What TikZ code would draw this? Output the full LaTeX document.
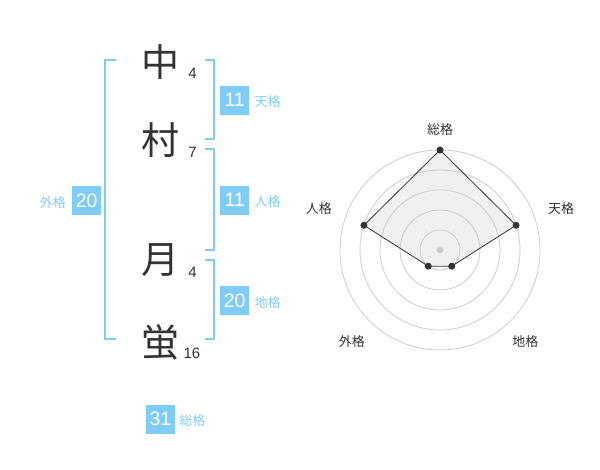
\documentclass[tikz,border=0pt]{standalone}
\usepackage{fontspec}
\setmainfont{Liberation Sans}
\newfontfamily\jpfont{Noto Sans CJK JP}
\usetikzlibrary{positioning}

\definecolor{kakublue}{HTML}{80CCF8}
\definecolor{inkgray}{HTML}{333333}
\definecolor{ringgray}{HTML}{CCCCCC}
\definecolor{polyfill}{HTML}{F0F0F0}

\begin{document}
\begin{tikzpicture}[%
    x=1pt, y=1pt,
    on grid,
    kanji/.style={font=\jpfont\fontsize{38}{38}\selectfont, text=inkgray, inner sep=0pt},
    stroke/.style={font=\fontsize{15}{15}\selectfont, text=inkgray, inner sep=0pt},
    score/.style={fill=kakublue, text=white, font=\fontsize{19.5}{19.5}\selectfont,
                  minimum size=29pt, inner sep=0pt},
    kaku/.style={font=\jpfont\fontsize{13}{13}\selectfont, text=kakublue, inner sep=0pt},
    bracket/.style={draw=kakublue, line width=2pt},
    axis/.style={font=\jpfont\fontsize{13}{13}\selectfont, text=inkgray, inner sep=0pt},
    ring/.style={draw=ringgray, line width=0.8pt},
    dot/.style={circle, fill=inkgray, minimum size=7pt, inner sep=0pt},
    hub/.style={circle, fill=ringgray, minimum size=7pt, inner sep=0pt}
    ]
    \useasboundingbox (0,0) rectangle (600,470);

    % the name
    \node[kanji] (naka)              at (160,408) {中};
    \node[kanji] (mura)   [below=78pt of naka]   {村};
    \node[kanji] (tsuki)  [below=120pt of mura]  {月};
    \node[kanji] (hotaru) [below=82pt of tsuki]  {蛍};

    \node[stroke] (s1) [below right=11pt and 32.5pt of naka]   {4};
    \node[stroke] (s2) [below right=12.7pt and 32.5pt of mura] {7};
    \node[stroke] (s3) [below right=12.7pt and 32.5pt of tsuki] {4};
    \node[stroke] (s4) [below right=11.6pt and 32pt of hotaru] {16};

    % brackets
    \draw[bracket] (116,410) -- (105,410) -- (105,130.7) -- (116,130.7);
    \draw[bracket] (205,410) -- (214.3,410) -- (214.3,330.7) -- (205,330.7);
    \draw[bracket] (205,320.7) -- (214.3,320.7) -- (214.3,220) -- (205,220);
    \draw[bracket] (205,210) -- (214.3,210) -- (214.3,130.7) -- (205,130.7);

    % scores
    \node[score] (ten) at (234.7,369.7) {11};
    \node[kaku, anchor=base west] (tenlbl) at ([xshift=5pt]ten.base east) {天格};
    \node[score] (jin) at (234.7,269.7) {11};
    \node[kaku, anchor=base west] (jinlbl) at ([xshift=5pt]jin.base east) {人格};
    \node[score] (chi) at (234.7,169.7) {20};
    \node[kaku, anchor=base west] (chilbl) at ([xshift=5pt]chi.base east) {地格};
    \node[score] (gai) at (86.7,269.7) {20};
    \node[kaku, anchor=base east] (gailbl) at ([xshift=-6pt]gai.base west) {外格};
    \node[score] (sou) at (160.5,50.8) {31};
    \node[kaku, anchor=base west] (soulbl) at ([xshift=4pt]sou.base east) {総格};

    % radar
    \coordinate (c) at (440,220);
    \coordinate (psou) at ([shift={(90:100)}]c);
    \coordinate (pten) at ([shift={(18:80)}]c);
    \coordinate (pchi) at ([shift={(-54:20)}]c);
    \coordinate (pgai) at ([shift={(234:20)}]c);
    \coordinate (pjin) at ([shift={(162:80)}]c);

    \fill[polyfill] (psou) -- (pten) -- (pchi) -- (pgai) -- (pjin) -- cycle;
    \foreach \r in {20,40,...,100}
        \draw[ring] (c) circle (\r);
    \draw[inkgray, line width=0.8pt] (psou) -- (pten) -- (pchi) -- (pgai) -- (pjin) -- cycle;
    \foreach \p in {psou,pten,pchi,pgai,pjin}
        \node[dot] at (\p) {};
    \node[hub] (hub) at (c) {};

    \foreach \a/\d/\t/\n in {90/120/総格/asou, 19/128/天格/aten, -47/125/地格/achi,
                             226/127/外格/agai, 161/128/人格/ajin}
        \node[axis] (\n) at ([shift={(\a:\d)}]c) {\t};

\end{tikzpicture}
\end{document}
